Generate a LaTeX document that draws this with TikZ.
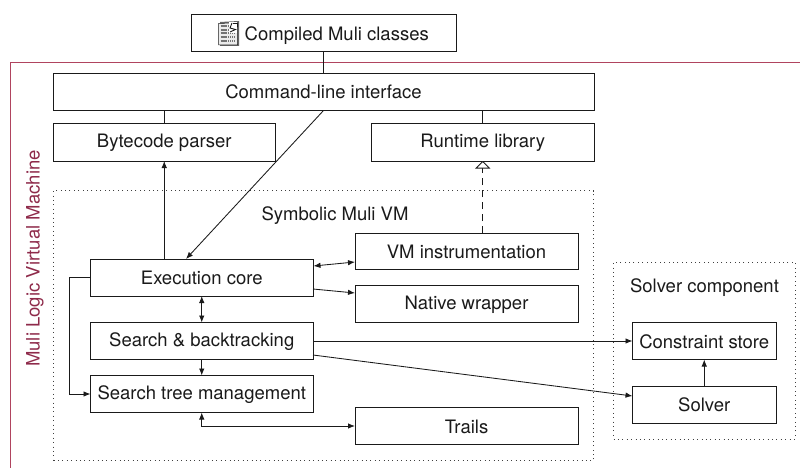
\documentclass[tikz,border=0pt]{standalone}
\usepackage{fontspec}
\setmainfont{TeX Gyre Heros}
\usetikzlibrary{arrows.meta}
\definecolor{framered}{HTML}{B0445F}
\definecolor{labelred}{HTML}{8E2A4A}
\definecolor{inkgray}{HTML}{1A1A1A}
\tikzset{
  x=1pt,y=-1pt,
  blockbox/.style={draw=inkgray,line width=1pt,fill=white,inner sep=0pt,outer sep=0pt,anchor=north west},
  zonebox/.style={draw=black!75,line width=0.7pt,dash pattern=on 1pt off 3.4pt,inner sep=0pt,outer sep=0pt,anchor=north west},
  caption/.style={font=\fontsize{18.5}{22}\selectfont,text=inkgray,inner sep=0pt,anchor=base},
  link/.style={draw=inkgray,line width=0.85pt},
  flow/.style={link,-{Latex[length=7pt,width=5.5pt]}},
  twoway/.style={link,{Latex[length=7pt,width=5.5pt]}-{Latex[length=7pt,width=5.5pt]}},
  realize/.style={link,dash pattern=on 7pt off 5pt,-{Triangle[open,length=7.5pt,width=15pt,fill=white,line width=0.8pt]}},
}
% name, left, top, width, height, baseline offset from centre, text
\newcommand{\blockat}[7]{\node[blockbox,minimum width=#4pt,minimum height=#5pt] (#1) at (#2,#3) {};\node[caption] (#1text) at ([yshift=-#6pt]#1.center) {#7};}
\begin{document}
\begin{tikzpicture}
\useasboundingbox (0,0) rectangle (800,468);
% outer frame
\draw[framered,line width=0.9pt] (800,62.5) -- (10,62.5) -- (10,468);
\node[caption,rotate=90,text=labelred] (vmlabel) at (39.5,258.5) {Muli Logic Virtual Machine};
% zones
\node[zonebox,minimum width=540pt,minimum height=270pt] (symzone) at (53.5,190.5) {};
\node[zonebox,minimum width=181.5pt,minimum height=177pt] (solverzone) at (613.5,262) {};
\node[caption] (symlabel) at (335,220) {Symbolic Muli VM};
\node[caption] (solverlabel) at (704.5,292.3) {Solver component};
% blocks
\node[blockbox,minimum width=265pt,minimum height=37pt] (classes) at (191,15) {};
\node[caption,anchor=base west] (classeslabel) at (244.5,41) {Compiled Muli classes};
\blockat{cli}{53}{73.5}{541}{37}{7}{Command-line interface}
\blockat{parser}{53}{124}{222.5}{37}{5}{Bytecode parser}
\blockat{runtime}{371.5}{124}{222.5}{37}{5}{Runtime library}
\blockat{vminstr}{355}{233}{223}{36.5}{7}{VM instrumentation}
\blockat{native}{355}{285.5}{223}{37}{5}{Native wrapper}
\blockat{exec}{90.5}{259}{222.5}{37}{6.5}{Execution core}
\blockat{search}{90.5}{322.5}{222.5}{37}{5.7}{Search \& backtracking}
\blockat{tree}{90.5}{375.5}{222.5}{37}{5}{Search tree management}
\blockat{trails}{355}{407.5}{223}{37}{7}{Trails}
\blockat{store}{632.5}{322.5}{143.5}{37}{7}{Constraint store}
\blockat{solver}{632.5}{386}{143.5}{37}{7}{Solver}
% document icon
\begin{scope}[shift={(218,22)}]
  \fill[black!60] (2,0) -- (21,-1) -- (21,24) -- (2,24) -- cycle;
  \draw[inkgray,line width=0.5pt,fill=black!8] (0.5,1.5) -- (13,1) -- (19.5,5) -- (19.5,23) -- (0.5,23) -- cycle;
  \foreach \yy in {4.5,8,11.5,15.5,19.5}{
    \draw[black!55,line width=2pt,dash pattern=on 1.2pt off 0.7pt] (2.5,\yy) -- (17.5,\yy);
  }
  \fill[white] (10.5,0.5) rectangle (19,11);
  \draw[inkgray,line width=0.9pt] (14,1) -- (12,6) -- (17.5,7.5) -- (12,10);
  \draw[inkgray,line width=0.6pt] (15,1) -- (19.5,1) -- (19.5,5);
\end{scope}
% named connector ends
\coordinate (cliout) at (323.5,110.5);
\coordinate (execin) at (186,259);
\coordinate (vmport) at (355,262);
\coordinate (execvm) at (313.5,266);
\coordinate (execnat) at (313,289);
\coordinate (natport) at (355,293);
\coordinate (searchsolve) at (313,355);
\coordinate (solveport) at (632.5,396);
% connectors
\draw[link] (classes.south -| cliout) -- (cli.north -| cliout);
\draw[link] (cli.south -| parser.south) -- (parser.north);
\draw[link] (cli.south -| runtime.south) -- (runtime.north);
\draw[flow] (cliout) -- (execin);
\draw[flow] (exec.north -| parser.south) -- (parser.south);
\draw[realize] (vminstr.north -| runtime.south) -- (runtime.south);
\draw[twoway] (execvm) -- (vmport);
\draw[flow] (execnat) -- (natport);
\draw[twoway] (exec.south) -- (search.north);
\draw[flow] (search.south) -- (tree.north);
\draw[flow] (exec.west) -- ++(-21,0) |- (tree.west);
\draw[twoway] (tree.south) |- (trails.west);
\draw[flow] (search.east) -- (store.west);
\draw[flow] (searchsolve) -- (solveport);
\draw[flow] (solver.north) -- (store.south);
\end{tikzpicture}
\end{document}
